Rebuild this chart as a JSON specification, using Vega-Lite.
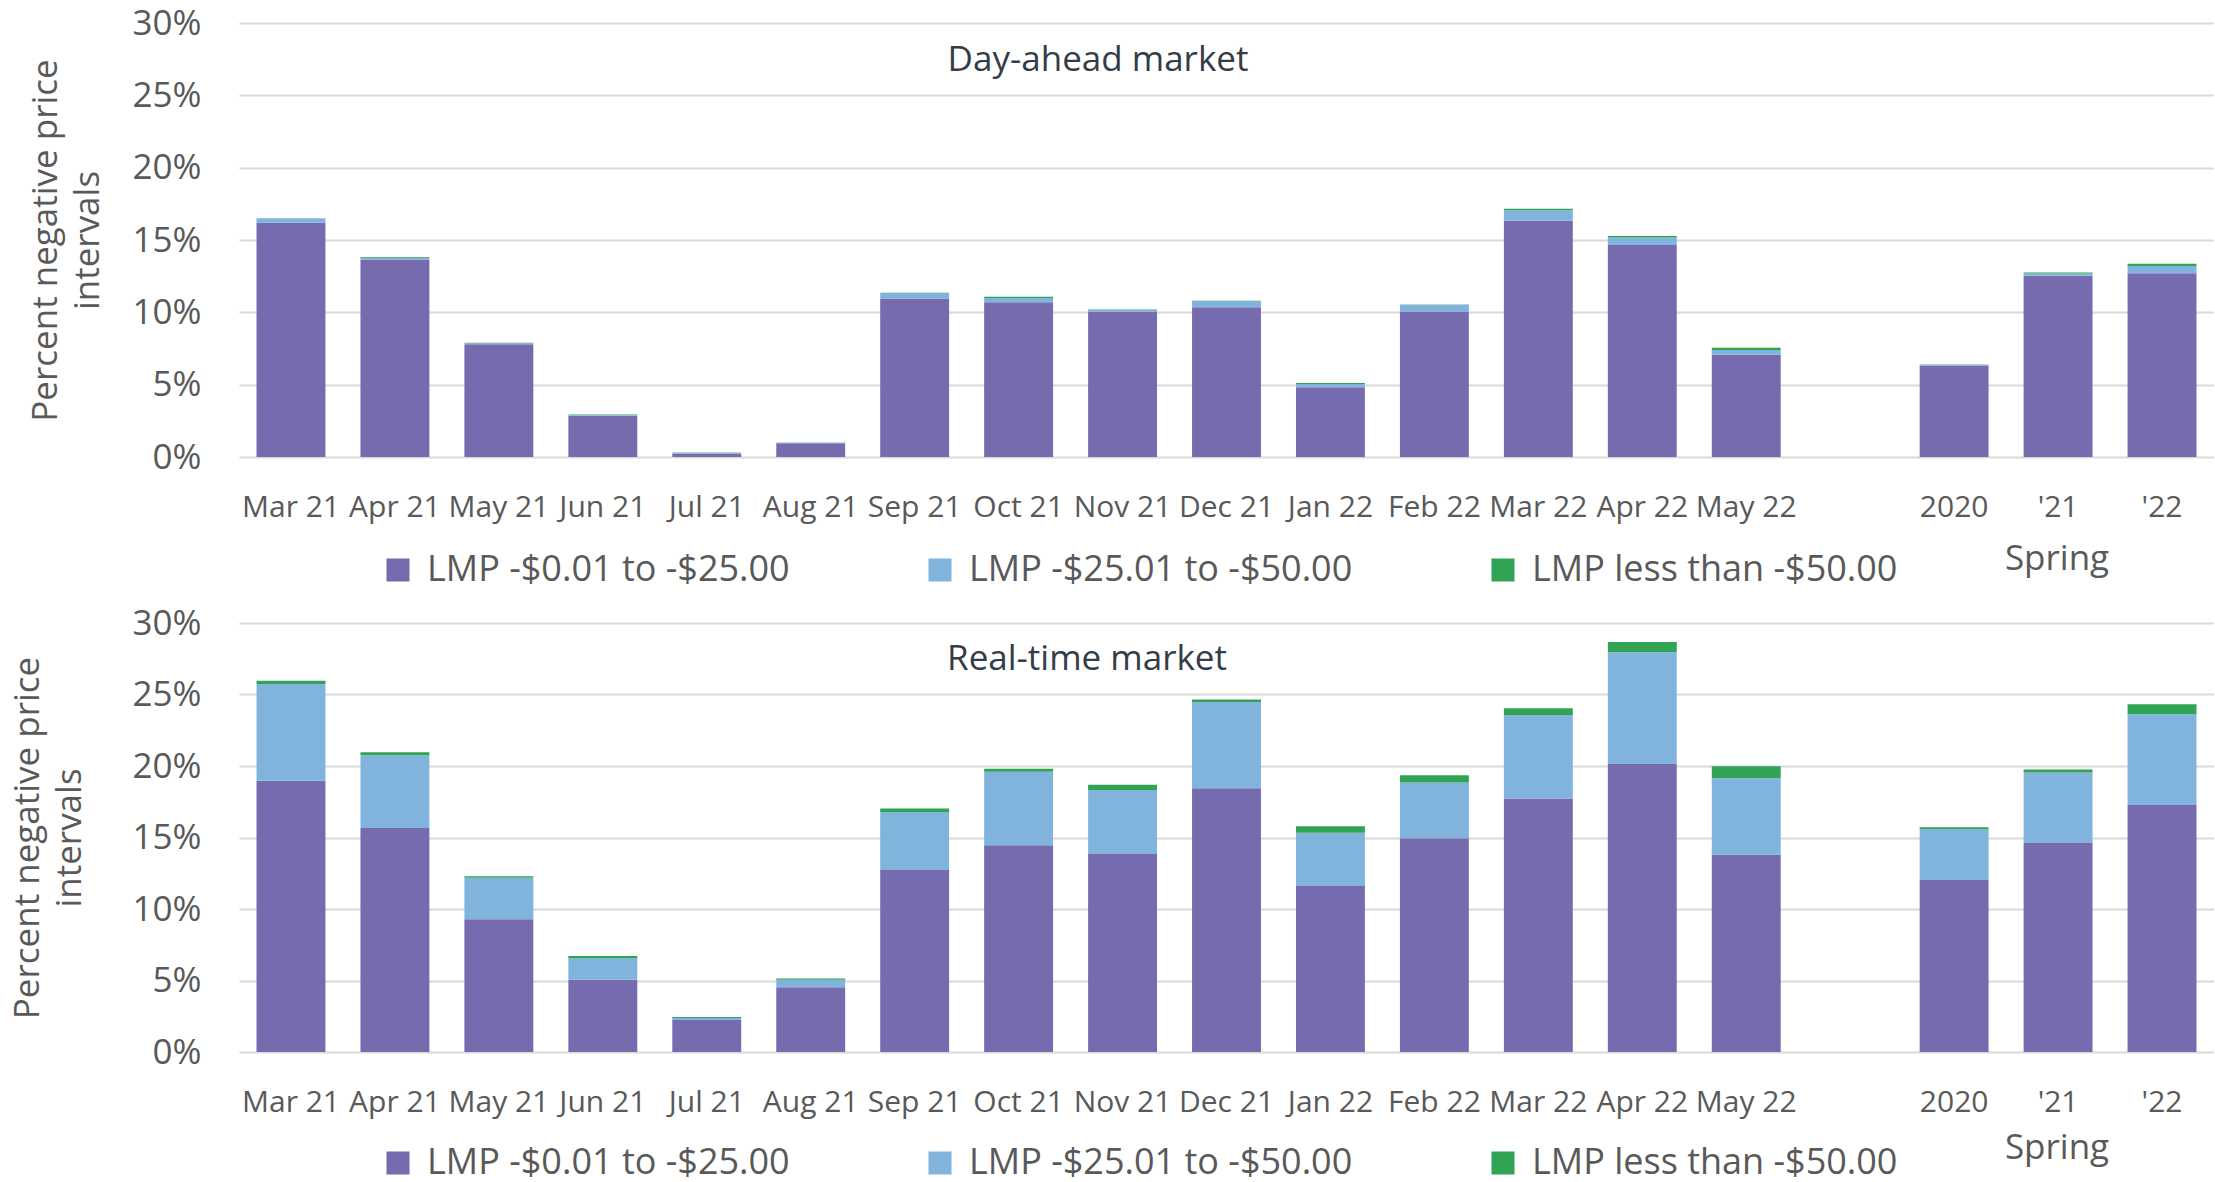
{
  "$schema": "https://vega.github.io/schema/vega-lite/v6.json",
  "padding": {"left": 10, "top": 6, "right": 0, "bottom": 0},
  "background": "white",
  "config": {
    "font": "Open Sans",
    "view": {"stroke": null},
    "axis": {"labelFont": "Open Sans", "titleFont": "Open Sans", "labelColor": "#595959", "titleColor": "#595959"},
    "legend": {"labelFont": "Open Sans"}
  },
  "datasets": {
    "rows": [
      {"market": "DA", "period": "Mar 21", "band": "LMP -$0.01 to -$25.00", "pct": 16.2},
      {"market": "DA", "period": "Mar 21", "band": "LMP -$25.01 to -$50.00", "pct": 0.3},
      {"market": "DA", "period": "Mar 21", "band": "LMP less than -$50.00", "pct": 0.0},
      {"market": "DA", "period": "Apr 21", "band": "LMP -$0.01 to -$25.00", "pct": 13.65},
      {"market": "DA", "period": "Apr 21", "band": "LMP -$25.01 to -$50.00", "pct": 0.13},
      {"market": "DA", "period": "Apr 21", "band": "LMP less than -$50.00", "pct": 0.05},
      {"market": "DA", "period": "May 21", "band": "LMP -$0.01 to -$25.00", "pct": 7.8},
      {"market": "DA", "period": "May 21", "band": "LMP -$25.01 to -$50.00", "pct": 0.06},
      {"market": "DA", "period": "May 21", "band": "LMP less than -$50.00", "pct": 0.04},
      {"market": "DA", "period": "Jun 21", "band": "LMP -$0.01 to -$25.00", "pct": 2.85},
      {"market": "DA", "period": "Jun 21", "band": "LMP -$25.01 to -$50.00", "pct": 0.06},
      {"market": "DA", "period": "Jun 21", "band": "LMP less than -$50.00", "pct": 0.03},
      {"market": "DA", "period": "Jul 21", "band": "LMP -$0.01 to -$25.00", "pct": 0.25},
      {"market": "DA", "period": "Jul 21", "band": "LMP -$25.01 to -$50.00", "pct": 0.05},
      {"market": "DA", "period": "Jul 21", "band": "LMP less than -$50.00", "pct": 0.01},
      {"market": "DA", "period": "Aug 21", "band": "LMP -$0.01 to -$25.00", "pct": 0.95},
      {"market": "DA", "period": "Aug 21", "band": "LMP -$25.01 to -$50.00", "pct": 0.05},
      {"market": "DA", "period": "Aug 21", "band": "LMP less than -$50.00", "pct": 0.0},
      {"market": "DA", "period": "Sep 21", "band": "LMP -$0.01 to -$25.00", "pct": 10.96},
      {"market": "DA", "period": "Sep 21", "band": "LMP -$25.01 to -$50.00", "pct": 0.38},
      {"market": "DA", "period": "Sep 21", "band": "LMP less than -$50.00", "pct": 0.02},
      {"market": "DA", "period": "Oct 21", "band": "LMP -$0.01 to -$25.00", "pct": 10.7},
      {"market": "DA", "period": "Oct 21", "band": "LMP -$25.01 to -$50.00", "pct": 0.29},
      {"market": "DA", "period": "Oct 21", "band": "LMP less than -$50.00", "pct": 0.08},
      {"market": "DA", "period": "Nov 21", "band": "LMP -$0.01 to -$25.00", "pct": 10.05},
      {"market": "DA", "period": "Nov 21", "band": "LMP -$25.01 to -$50.00", "pct": 0.15},
      {"market": "DA", "period": "Nov 21", "band": "LMP less than -$50.00", "pct": 0.02},
      {"market": "DA", "period": "Dec 21", "band": "LMP -$0.01 to -$25.00", "pct": 10.36},
      {"market": "DA", "period": "Dec 21", "band": "LMP -$25.01 to -$50.00", "pct": 0.42},
      {"market": "DA", "period": "Dec 21", "band": "LMP less than -$50.00", "pct": 0.02},
      {"market": "DA", "period": "Jan 22", "band": "LMP -$0.01 to -$25.00", "pct": 4.82},
      {"market": "DA", "period": "Jan 22", "band": "LMP -$25.01 to -$50.00", "pct": 0.23},
      {"market": "DA", "period": "Jan 22", "band": "LMP less than -$50.00", "pct": 0.07},
      {"market": "DA", "period": "Feb 22", "band": "LMP -$0.01 to -$25.00", "pct": 10.05},
      {"market": "DA", "period": "Feb 22", "band": "LMP -$25.01 to -$50.00", "pct": 0.47},
      {"market": "DA", "period": "Feb 22", "band": "LMP less than -$50.00", "pct": 0.02},
      {"market": "DA", "period": "Mar 22", "band": "LMP -$0.01 to -$25.00", "pct": 16.33},
      {"market": "DA", "period": "Mar 22", "band": "LMP -$25.01 to -$50.00", "pct": 0.73},
      {"market": "DA", "period": "Mar 22", "band": "LMP less than -$50.00", "pct": 0.1},
      {"market": "DA", "period": "Apr 22", "band": "LMP -$0.01 to -$25.00", "pct": 14.66},
      {"market": "DA", "period": "Apr 22", "band": "LMP -$25.01 to -$50.00", "pct": 0.52},
      {"market": "DA", "period": "Apr 22", "band": "LMP less than -$50.00", "pct": 0.1},
      {"market": "DA", "period": "May 22", "band": "LMP -$0.01 to -$25.00", "pct": 7.06},
      {"market": "DA", "period": "May 22", "band": "LMP -$25.01 to -$50.00", "pct": 0.34},
      {"market": "DA", "period": "May 22", "band": "LMP less than -$50.00", "pct": 0.15},
      {"market": "DA", "period": "2020", "band": "LMP -$0.01 to -$25.00", "pct": 6.33},
      {"market": "DA", "period": "2020", "band": "LMP -$25.01 to -$50.00", "pct": 0.05},
      {"market": "DA", "period": "2020", "band": "LMP less than -$50.00", "pct": 0.02},
      {"market": "DA", "period": "'21", "band": "LMP -$0.01 to -$25.00", "pct": 12.53},
      {"market": "DA", "period": "'21", "band": "LMP -$25.01 to -$50.00", "pct": 0.15},
      {"market": "DA", "period": "'21", "band": "LMP less than -$50.00", "pct": 0.08},
      {"market": "DA", "period": "'22", "band": "LMP -$0.01 to -$25.00", "pct": 12.71},
      {"market": "DA", "period": "'22", "band": "LMP -$25.01 to -$50.00", "pct": 0.49},
      {"market": "DA", "period": "'22", "band": "LMP less than -$50.00", "pct": 0.16},

      {"market": "RT", "period": "Mar 21", "band": "LMP -$0.01 to -$25.00", "pct": 18.96},
      {"market": "RT", "period": "Mar 21", "band": "LMP -$25.01 to -$50.00", "pct": 6.77},
      {"market": "RT", "period": "Mar 21", "band": "LMP less than -$50.00", "pct": 0.24},
      {"market": "RT", "period": "Apr 21", "band": "LMP -$0.01 to -$25.00", "pct": 15.66},
      {"market": "RT", "period": "Apr 21", "band": "LMP -$25.01 to -$50.00", "pct": 5.09},
      {"market": "RT", "period": "Apr 21", "band": "LMP less than -$50.00", "pct": 0.21},
      {"market": "RT", "period": "May 21", "band": "LMP -$0.01 to -$25.00", "pct": 9.28},
      {"market": "RT", "period": "May 21", "band": "LMP -$25.01 to -$50.00", "pct": 2.9},
      {"market": "RT", "period": "May 21", "band": "LMP less than -$50.00", "pct": 0.11},
      {"market": "RT", "period": "Jun 21", "band": "LMP -$0.01 to -$25.00", "pct": 5.06},
      {"market": "RT", "period": "Jun 21", "band": "LMP -$25.01 to -$50.00", "pct": 1.5},
      {"market": "RT", "period": "Jun 21", "band": "LMP less than -$50.00", "pct": 0.16},
      {"market": "RT", "period": "Jul 21", "band": "LMP -$0.01 to -$25.00", "pct": 2.24},
      {"market": "RT", "period": "Jul 21", "band": "LMP -$25.01 to -$50.00", "pct": 0.13},
      {"market": "RT", "period": "Jul 21", "band": "LMP less than -$50.00", "pct": 0.08},
      {"market": "RT", "period": "Aug 21", "band": "LMP -$0.01 to -$25.00", "pct": 4.53},
      {"market": "RT", "period": "Aug 21", "band": "LMP -$25.01 to -$50.00", "pct": 0.53},
      {"market": "RT", "period": "Aug 21", "band": "LMP less than -$50.00", "pct": 0.08},
      {"market": "RT", "period": "Sep 21", "band": "LMP -$0.01 to -$25.00", "pct": 12.73},
      {"market": "RT", "period": "Sep 21", "band": "LMP -$25.01 to -$50.00", "pct": 4.06},
      {"market": "RT", "period": "Sep 21", "band": "LMP less than -$50.00", "pct": 0.24},
      {"market": "RT", "period": "Oct 21", "band": "LMP -$0.01 to -$25.00", "pct": 14.45},
      {"market": "RT", "period": "Oct 21", "band": "LMP -$25.01 to -$50.00", "pct": 5.14},
      {"market": "RT", "period": "Oct 21", "band": "LMP less than -$50.00", "pct": 0.21},
      {"market": "RT", "period": "Nov 21", "band": "LMP -$0.01 to -$25.00", "pct": 13.84},
      {"market": "RT", "period": "Nov 21", "band": "LMP -$25.01 to -$50.00", "pct": 4.48},
      {"market": "RT", "period": "Nov 21", "band": "LMP less than -$50.00", "pct": 0.37},
      {"market": "RT", "period": "Dec 21", "band": "LMP -$0.01 to -$25.00", "pct": 18.45},
      {"market": "RT", "period": "Dec 21", "band": "LMP -$25.01 to -$50.00", "pct": 6.02},
      {"market": "RT", "period": "Dec 21", "band": "LMP less than -$50.00", "pct": 0.18},
      {"market": "RT", "period": "Jan 22", "band": "LMP -$0.01 to -$25.00", "pct": 11.6},
      {"market": "RT", "period": "Jan 22", "band": "LMP -$25.01 to -$50.00", "pct": 3.74},
      {"market": "RT", "period": "Jan 22", "band": "LMP less than -$50.00", "pct": 0.45},
      {"market": "RT", "period": "Feb 22", "band": "LMP -$0.01 to -$25.00", "pct": 14.95},
      {"market": "RT", "period": "Feb 22", "band": "LMP -$25.01 to -$50.00", "pct": 3.9},
      {"market": "RT", "period": "Feb 22", "band": "LMP less than -$50.00", "pct": 0.5},
      {"market": "RT", "period": "Mar 22", "band": "LMP -$0.01 to -$25.00", "pct": 17.72},
      {"market": "RT", "period": "Mar 22", "band": "LMP -$25.01 to -$50.00", "pct": 5.85},
      {"market": "RT", "period": "Mar 22", "band": "LMP less than -$50.00", "pct": 0.47},
      {"market": "RT", "period": "Apr 22", "band": "LMP -$0.01 to -$25.00", "pct": 20.14},
      {"market": "RT", "period": "Apr 22", "band": "LMP -$25.01 to -$50.00", "pct": 7.81},
      {"market": "RT", "period": "Apr 22", "band": "LMP less than -$50.00", "pct": 0.73},
      {"market": "RT", "period": "May 22", "band": "LMP -$0.01 to -$25.00", "pct": 13.81},
      {"market": "RT", "period": "May 22", "band": "LMP -$25.01 to -$50.00", "pct": 5.33},
      {"market": "RT", "period": "May 22", "band": "LMP less than -$50.00", "pct": 0.84},
      {"market": "RT", "period": "2020", "band": "LMP -$0.01 to -$25.00", "pct": 12.02},
      {"market": "RT", "period": "2020", "band": "LMP -$25.01 to -$50.00", "pct": 3.56},
      {"market": "RT", "period": "2020", "band": "LMP less than -$50.00", "pct": 0.13},
      {"market": "RT", "period": "'21", "band": "LMP -$0.01 to -$25.00", "pct": 14.61},
      {"market": "RT", "period": "'21", "band": "LMP -$25.01 to -$50.00", "pct": 4.93},
      {"market": "RT", "period": "'21", "band": "LMP less than -$50.00", "pct": 0.21},
      {"market": "RT", "period": "'22", "band": "LMP -$0.01 to -$25.00", "pct": 17.27},
      {"market": "RT", "period": "'22", "band": "LMP -$25.01 to -$50.00", "pct": 6.35},
      {"market": "RT", "period": "'22", "band": "LMP less than -$50.00", "pct": 0.69}
    ]
  },
  "spacing": 18,
  "vconcat": [
    {
      "width": 1975,
      "height": 434,
      "data": {"name": "rows"},
      "transform": [{"filter": "datum.market === 'DA'"}],
      "title": {"text": "Day-ahead market", "anchor": "middle", "frame": "group", "dx": -128.5, "dy": 76, "fontSize": 35, "fontWeight": "normal", "color": "#333D47", "font": "Open Sans"},
      "mark": {"type": "bar"},
      "encoding": {
        "x": {"field": "period", "type": "nominal",
          "scale": {"domain": ["Mar 21","Apr 21","May 21","Jun 21","Jul 21","Aug 21","Sep 21","Oct 21","Nov 21","Dec 21","Jan 22","Feb 22","Mar 22","Apr 22","May 22"," ","2020","'21","'22"], "paddingInner": 0.337, "paddingOuter": 0.1685},
          "axis": {"title": "Spring", "titleX": 1817.5, "titleY": 101, "titleAlign": "center", "titleBaseline": "middle", "titleFontSize": 35, "titleFontWeight": "normal", "titleColor": "#595959", "labelAngle": 0, "labelFontSize": 30, "labelPadding": 35, "labelColor": "#595959", "domain": false, "ticks": false, "grid": false}},
        "y": {"field": "pct", "type": "quantitative", "stack": "zero", "scale": {"domain": [0, 30], "nice": false},
          "axis": {"values": [0, 5, 10, 15, 20, 25, 30], "labelExpr": "datum.value + '%'", "title": ["Percent negative price", "intervals"], "titleFontSize": 35, "titleFontWeight": "normal", "titleLineHeight": 42, "titlePadding": 27, "labelFontSize": 35, "labelPadding": 38, "grid": true, "gridColor": "#d9d9d9", "gridWidth": 2, "domain": false, "ticks": false}},
        "color": {"field": "band", "type": "nominal",
          "scale": {"domain": ["LMP -$0.01 to -$25.00", "LMP -$25.01 to -$50.00", "LMP less than -$50.00"], "range": ["#776BAF", "#80B4DC", "#31A354"]},
          "legend": {"orient": "none", "legendX": 141, "legendY": 529, "direction": "horizontal", "columns": 3, "title": null, "symbolType": "square", "symbolSize": 530, "symbolStrokeWidth": 0, "labelFontSize": 36, "labelLimit": 0, "labelColor": "#595959", "columnPadding": 132, "labelOffset": 11, "padding": 0}},
        "order": {"field": "band", "sort": "ascending"}
      }
    },
    {
      "width": 1975,
      "height": 429,
      "data": {"name": "rows"},
      "transform": [{"filter": "datum.market === 'RT'"}],
      "title": {"text": "Real-time market", "anchor": "middle", "frame": "group", "dx": -139.5, "dy": 75, "fontSize": 35, "fontWeight": "normal", "color": "#333D47", "font": "Open Sans"},
      "mark": {"type": "bar"},
      "encoding": {
        "x": {"field": "period", "type": "nominal",
          "scale": {"domain": ["Mar 21","Apr 21","May 21","Jun 21","Jul 21","Aug 21","Sep 21","Oct 21","Nov 21","Dec 21","Jan 22","Feb 22","Mar 22","Apr 22","May 22"," ","2020","'21","'22"], "paddingInner": 0.337, "paddingOuter": 0.1685},
          "axis": {"title": "Spring", "titleX": 1817.5, "titleY": 95, "titleAlign": "center", "titleBaseline": "middle", "titleFontSize": 35, "titleFontWeight": "normal", "titleColor": "#595959", "labelAngle": 0, "labelFontSize": 30, "labelPadding": 35, "labelColor": "#595959", "domain": false, "ticks": false, "grid": false}},
        "y": {"field": "pct", "type": "quantitative", "stack": "zero", "scale": {"domain": [0, 30], "nice": false},
          "axis": {"values": [0, 5, 10, 15, 20, 25, 30], "labelExpr": "datum.value + '%'", "title": ["Percent negative price", "intervals"], "titleFontSize": 35, "titleFontWeight": "normal", "titleLineHeight": 42, "titlePadding": 45, "labelFontSize": 35, "labelPadding": 38, "grid": true, "gridColor": "#d9d9d9", "gridWidth": 2, "domain": false, "ticks": false}},
        "color": {"field": "band", "type": "nominal",
          "scale": {"domain": ["LMP -$0.01 to -$25.00", "LMP -$25.01 to -$50.00", "LMP less than -$50.00"], "range": ["#776BAF", "#80B4DC", "#31A354"]},
          "legend": {"orient": "none", "legendX": 141, "legendY": 522, "direction": "horizontal", "columns": 3, "title": null, "symbolType": "square", "symbolSize": 530, "symbolStrokeWidth": 0, "labelFontSize": 36, "labelLimit": 0, "labelColor": "#595959", "columnPadding": 132, "labelOffset": 11, "padding": 0}},
        "order": {"field": "band", "sort": "ascending"}
      }
    }
  ],
  "resolve": {"scale": {"color": "independent"}, "legend": {"color": "independent"}}
}
